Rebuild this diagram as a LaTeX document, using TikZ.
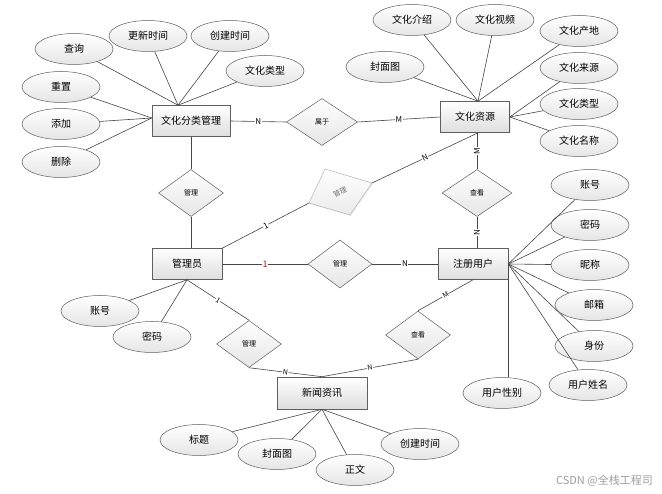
\documentclass[tikz,border=0pt]{standalone}
\usepackage{fontspec}
\setmainfont{Noto Sans CJK SC}
\usetikzlibrary{shapes.geometric,calc,shadows}
\definecolor{lnc}{RGB}{70,70,70}
\definecolor{bdc}{RGB}{95,95,95}
\definecolor{redlab}{RGB}{160,30,20}
\begin{document}
\begin{tikzpicture}[x=1pt,y=-1pt,
  ent/.style={draw=bdc, line width=0.6pt, top color=white, bottom color=black!13, minimum width=#1, minimum height=31pt, inner sep=0pt, font=\fontsize{10}{12}\selectfont, drop shadow={opacity=0.18,shadow xshift=1pt,shadow yshift=-1pt}},
  attr/.style={ellipse, draw=bdc, line width=0.5pt, top color=white, bottom color=black!10, minimum width=78pt, minimum height=31pt, inner sep=0pt, font=\fontsize{10}{12}\selectfont},
  rel/.style={diamond, draw=bdc, line width=0.5pt, top color=white, bottom color=black!10, minimum width=#1, minimum height=47pt, inner sep=0pt, font=\fontsize{7}{8}\selectfont},
  conn/.style={draw=lnc, line width=0.6pt},
  lab/.style={fill=white, inner sep=0.6pt, font=\fontsize{8}{9}\selectfont},
]
\useasboundingbox (0,0) rectangle (662,494);
\fill[white] (0,0) rectangle (662,494);

% entity: culture category management
\node[ent=78pt] (wm) at (191,121) {文化分类管理};
\node[attr] (q) at (74,49) {查询};
\node[attr] (gx) at (148,36) {更新时间};
\node[attr] (cj) at (230,36) {创建时间};
\node[attr] (lx1) at (265,71) {文化类型};
\node[attr] (cz) at (61,87) {重置};
\node[attr] (tj) at (61,124) {添加};
\node[attr] (sc) at (61,162) {删除};

% relation belongs
\node[rel=71pt] (sy) at (322,122) {属于};

% entity: culture resource
\node[ent=69pt] (wr) at (475,117) {文化资源};
\node[attr] (js) at (412,20) {文化介绍};
\node[attr] (sp) at (495,20) {文化视频};
\node[attr] (cd) at (579,31) {文化产地};
\node[attr] (fm1) at (385,67) {封面图};
\node[attr] (ly) at (579,68) {文化来源};
\node[attr] (lx2) at (579,104) {文化类型};
\node[attr] (mc) at (579,141) {文化名称};

% relations and entities middle
\node[rel=65pt] (gl1) at (191,193) {管理};
\node[ent=70pt] (adm) at (187,264) {管理员};
\node[rel=64pt, minimum height=48pt] (gl2) at (340,264) {管理};
\node[ent=70pt] (ur) at (473,264) {注册用户};
\node[rel=70pt] (ck1) at (477,193) {查看};

% gray skewed diamond
\coordinate (gt) at (325,169);
\coordinate (gr) at (372,183);
\coordinate (gb) at (350,215);
\coordinate (gL) at (309,203);
\shade[top color=white, bottom color=black!8, drop shadow={opacity=0.12,shadow xshift=1pt,shadow yshift=-1pt}] (gt) -- (gr) -- (gb) -- (gL) -- cycle;
\draw[draw=black!30, line width=0.5pt] (gt) -- (gr) -- (gb) -- (gL) -- cycle;
\node[text=black!55, rotate=25, inner sep=0pt, font=\fontsize{7}{8}\selectfont] (gdl) at (340,192) {管理};

% bottom relations and news entity
\node[rel=65pt] (gl3) at (249,344) {管理};
\node[rel=65pt, minimum height=48pt] (ck2) at (418,335) {查看};
\node[ent=90pt, minimum height=32pt] (nw) at (322,393) {新闻资讯};

% admin attributes
\node[attr] (zh1) at (100,311) {账号};
\node[attr] (mm1) at (152,337) {密码};

% user attributes
\node[attr] (zh2) at (590,185) {账号};
\node[attr] (mm2) at (590,225) {密码};
\node[attr] (nc) at (590,265) {昵称};
\node[attr] (yx) at (594,305) {邮箱};
\node[attr] (sf) at (594,346) {身份};
\node[attr] (xm) at (588,385) {用户姓名};
\node[attr] (xb) at (502,393) {用户性别};

% news attributes
\node[attr] (bt) at (199,440) {标题};
\node[attr] (fm2) at (277,454) {封面图};
\node[attr] (zw) at (355,470) {正文};
\node[attr] (cj2) at (420,444) {创建时间};

% watermark
\node[text=black!38, anchor=east, inner sep=0pt, font=\fontsize{11}{12}\selectfont] (wmk) at (653,481) {CSDN @全栈工程司};

% ---- connectors ----
\coordinate (wmtop) at ($(wm.north)+(-13,0)$);
\coordinate (wmleft) at ($(wm.west)+(0,-3)$);
\foreach \n in {q,gx,cj,lx1} \draw[conn] (\n) -- (wmtop);
\foreach \n in {cz,tj,sc} \draw[conn] (\n) -- (wmleft);

\coordinate (wrtop) at ($(wr.north)+(3,0)$);
\foreach \n in {js,sp,cd,fm1} \draw[conn] (\n) -- (wrtop);
\foreach \n in {ly,lx2,mc} \draw[conn] (\n) -- (wr.east);

\draw[conn] (wm.east) -- node[lab]{N} (sy.west);
\draw[conn] (sy.east) -- node[lab]{M} (wr.west);

\draw[conn] (gl1.north) -- (gl1.north |- wm.south);
\draw[conn] (gl1.south) -- (gl1.south |- adm.north);

\draw[conn] (adm.north east) -- node[lab, sloped]{1} (gL);
\draw[conn] (gr) -- node[lab, sloped]{N} (wrtop |- wr.south);

\draw[conn] (adm.east) -- node[lab, text=redlab, font=\fontsize{9}{10}\selectfont]{1} (gl2.west);
\draw[conn] (gl2.east) -- node[lab]{N} (ur.west);

\draw[conn] (ck1.north |- wr.south) -- node[lab, rotate=90]{M} (ck1.north);
\draw[conn] (ck1.south) -- node[lab, rotate=90]{N} (ck1.south |- ur.north);

\foreach \n in {zh1,mm1} \draw[conn] (\n) -- (adm.south);
\foreach \n in {zh2,mm2,nc,yx,sf,xm} \draw[conn] (\n) -- (ur.east);
\draw[conn] (ur.east) -- (ur.east |- xb.north);

\draw[conn] (adm.south) -- node[lab, sloped, font=\fontsize{7}{8}\selectfont]{1} (gl3.north);
\draw[conn] (gl3.south) -- node[lab, sloped, font=\fontsize{7}{8}\selectfont]{N} (nw.north);
\draw[conn] (ur.south) -- node[lab, sloped, font=\fontsize{7}{8}\selectfont]{M} (ck2.north);
\draw[conn] (ck2.south) -- node[lab, sloped, font=\fontsize{7}{8}\selectfont]{N} (nw.north);

\foreach \n in {bt,fm2,zw,cj2} \draw[conn] (\n) -- (nw.south);
\end{tikzpicture}
\end{document}
